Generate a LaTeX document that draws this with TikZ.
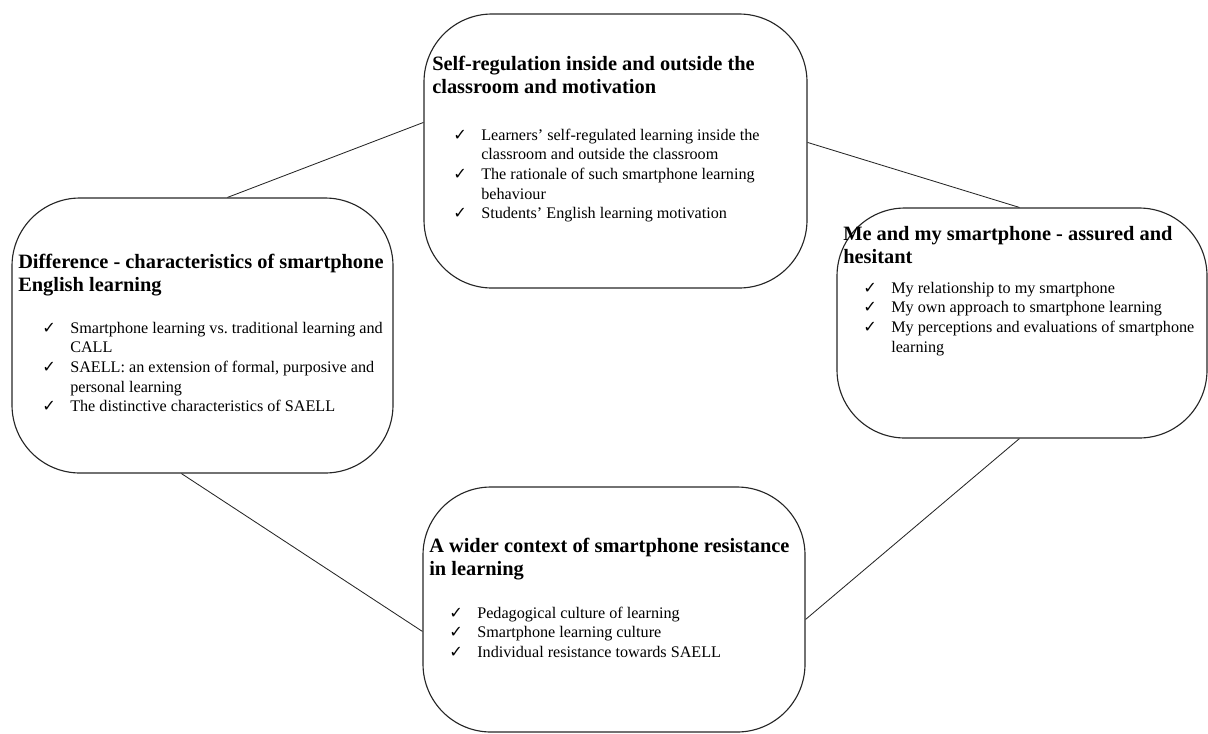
\documentclass[tikz,border=0pt]{standalone}
\usepackage{fontspec}
\setmainfont{Liberation Serif}
\newfontfamily\chkfont{DejaVu Sans}
\usetikzlibrary{positioning}
\newcommand{\chkmark}{{\chkfont\bfseries ✓}}

\begin{document}
\begin{tikzpicture}[
    themebox/.style={rectangle, draw=black!85, line width=0.8pt, rounded corners=1.7cm},
    titletext/.style={anchor=north west, inner sep=0pt, font=\fontsize{14.5}{16.4}\selectfont\bfseries},
    itemtext/.style={anchor=north west, inner sep=0pt, font=\fontsize{11.5}{14}\selectfont},
    link/.style={draw=black!85, line width=0.6pt}
  ]
  \useasboundingbox (0,0) rectangle (30.2,-18.325);

  % Theme boxes
  \node[themebox, minimum width=9.575cm, minimum height=6.85cm] (selfreg) at (15.3875,-3.775) {};
  \node[themebox, minimum width=9.525cm, minimum height=6.875cm] (difference) at (5.0625,-8.3875) {};
  \node[themebox, minimum width=9.25cm, minimum height=5.75cm] (mephone) at (25.55,-8.075) {};
  \node[themebox, minimum width=9.55cm, minimum height=6.125cm] (context) at (15.35,-15.2375) {};

  % Titles
  \node[titletext] (selfregtitle) at (10.8,-1.34) {\begin{tabular}{@{}l@{}}Self-regulation inside and outside the\\ classroom and motivation\end{tabular}};
  \node[titletext] (differencetitle) at (0.45,-6.29) {\begin{tabular}{@{}l@{}}Difference - characteristics of smartphone\\ English learning\end{tabular}};
  \node[titletext] (mephonetitle) at (21.075,-5.59) {\begin{tabular}{@{}l@{}}Me and my smartphone - assured and\\ hesitant\end{tabular}};
  \node[titletext] (contexttitle) at (10.725,-13.39) {\begin{tabular}{@{}l@{}}A wider context of smartphone resistance\\ in learning\end{tabular}};

  % Sub-themes
  \node[itemtext] (selfreglist) at (11.325,-3.15) {\begin{tabular}{@{}p{0.7cm}@{}l@{}}
    \chkmark & Learners' self-regulated learning inside the\\
             & classroom and outside the classroom\\
    \chkmark & The rationale of such smartphone learning\\
             & behaviour\\
    \chkmark & Students' English learning motivation
  \end{tabular}};
  \node[itemtext] (differencelist) at (1.05,-7.975) {\begin{tabular}{@{}p{0.7cm}@{}l@{}}
    \chkmark & Smartphone learning vs.\ traditional learning and\\
             & CALL\\
    \chkmark & SAELL: an extension of formal, purposive and\\
             & personal learning\\
    \chkmark & The distinctive characteristics of SAELL
  \end{tabular}};
  \node[itemtext] (mephonelist) at (21.575,-6.975) {\begin{tabular}{@{}p{0.7cm}@{}l@{}}
    \chkmark & My relationship to my smartphone\\
    \chkmark & My own approach to smartphone learning\\
    \chkmark & My perceptions and evaluations of smartphone\\
             & learning
  \end{tabular}};
  \node[itemtext] (contextlist) at (11.225,-15.1) {\begin{tabular}{@{}p{0.7cm}@{}l@{}}
    \chkmark & Pedagogical culture of learning\\
    \chkmark & Smartphone learning culture\\
    \chkmark & Individual resistance towards SAELL
  \end{tabular}};

  % Connections
  \draw[link] ([xshift=5.4cm]difference.north west) -- ([yshift=-2.725cm]selfreg.north west);
  \draw[link] ([yshift=-3.225cm]selfreg.north east) -- ([xshift=4.575cm]mephone.north west);
  \draw[link] ([xshift=4.575cm]mephone.south west) -- ([yshift=-3.325cm]context.north east);
  \draw[link] ([xshift=4.25cm]difference.south west) -- ([yshift=-3.625cm]context.north west);
\end{tikzpicture}
\end{document}
